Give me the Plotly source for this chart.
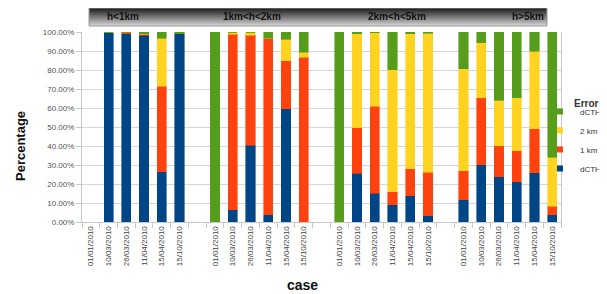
import plotly.graph_objects as go

# ---- data (percent) ----
groups = ["h<1km", "1km<h<2km", "2km<h<5km", "h>5km"]
dates = ["01/01/2010", "10/03/2010", "26/03/2010", "11/04/2010", "15/04/2010", "15/10/2010"]

series_names = ["dCTH < 1 km", "1 km < dCTH < 2 km", "2 km < dCTH < 5 km", "dCTH > 5 km"]
series_colors = ["#004586", "#ff420e", "#ffd320", "#579d1c"]

below_1km = [
    [0, 99.7, 99.0, 98.3, 26.5, 99.2],
    [0, 6.5, 40.4, 3.7, 59.6, 0],
    [0, 25.6, 15.2, 9.0, 13.9, 3.2],
    [11.6, 30.2, 23.8, 21.3, 25.9, 3.7],
]
between_1_2km = [
    [0, 0, 1.0, 0.6, 44.9, 0],
    [0, 92.3, 58.0, 92.9, 25.2, 86.6],
    [0, 24.1, 45.6, 7.0, 14.1, 22.9],
    [15.4, 35.2, 16.4, 16.1, 23.3, 4.6],
]
between_2_5km = [
    [0, 0.3, 0, 0.1, 25.2, 0],
    [0, 1.2, 1.6, 0, 11.3, 2.8],
    [0, 49.3, 38.7, 64.2, 71.0, 73.3],
    [53.6, 29.0, 24.0, 27.9, 40.6, 25.7],
]
above_5km = [
    [0, 0, 0, 1.0, 3.4, 0.8],
    [100, 0, 0, 3.4, 3.9, 10.6],
    [100, 1.0, 0.5, 19.8, 1.0, 0.6],
    [19.4, 5.6, 35.8, 34.7, 10.2, 66.0],
]
series_values = [below_1km, between_1_2km, between_2_5km, above_5km]

# ---- layout constants (figure pixels; page body adds an 8px offset) ----
OFF = 8
W, H = 607 - OFF, 294 - OFF
ML, MT = 82 - OFF, 32 - OFF
PR, PB = 561 - OFF, 222 - OFF
MR, MB = W - PR, H - PB
PW, PH = PR - ML, PB - MT

def px_x(p):  # p given in window pixels
    return (p - OFF - ML) / PW

def px_y(p):
    return (PB - (p - OFF)) / PH

slot = len(dates) + 1  # one empty slot between groups
xs = [g * slot + i for g in range(len(groups)) for i in range(len(dates))]
tick_text = [d for g in range(len(groups)) for d in dates]
n_slots = slot * len(groups) - 1

fig = go.Figure()
for name, color, vals in zip(series_names, series_colors, series_values):
    flat = [v for grp in vals for v in grp]
    fig.add_trace(go.Bar(
        x=xs, y=flat, name=name, showlegend=False,
        marker=dict(color=color, line=dict(width=0.6, color=color)),
    ))
# legend entries with small square keys
for name, color in reversed(list(zip(series_names, series_colors))):
    fig.add_trace(go.Scatter(
        x=[None], y=[None], mode="markers", name=name,
        marker=dict(symbol="square", size=6, color=color),
    ))

FONT = "Liberation Sans"

fig.update_layout(
    width=W, height=H,
    margin=dict(l=ML, r=MR, t=MT, b=MB, autoexpand=False),
    barmode="stack", bargap=0.48,
    paper_bgcolor="white", plot_bgcolor="white",
    font=dict(family=FONT, size=9, color="#444"),
    showlegend=True,
    legend=dict(
        x=px_x(540), y=px_y(97), xanchor="left", yanchor="top",
        traceorder="normal",
        font=dict(family=FONT, size=8, color="#333"),
        itemwidth=30, tracegroupgap=0,
        bgcolor="rgba(0,0,0,0)",
    ),
    xaxis=dict(
        range=[-0.5, n_slots - 0.5],
        tickvals=xs, ticktext=tick_text,
        tickangle=-90, ticks="",
        tickfont=dict(family=FONT, size=8, color="#444"),
        showgrid=False, zeroline=False,
        showline=True, linecolor="#c8c8c8", linewidth=1,
        minor=dict(tick0=0.5, dtick=1, ticks="outside", ticklen=5,
                   tickcolor="#c8c8c8", showgrid=False),
    ),
    yaxis=dict(
        range=[0, 100], dtick=10,
        tickformat=".2f", ticksuffix="%",
        tickfont=dict(family=FONT, size=8, color="#555"),
        ticks="outside", ticklen=5, tickcolor="#c8c8c8",
        showgrid=True, gridcolor="#d6d6d6", gridwidth=1,
        zeroline=False,
        showline=True, linecolor="#c8c8c8", linewidth=1, mirror=True,
    ),
)

# header band with vertical gradient
band_top, band_bot = 8, 26
x0, x1 = px_x(89), px_x(547)
n_strips = 18
c_top, c_bot = (30, 30, 30), (210, 210, 210)
for k in range(n_strips):
    t = k / (n_strips - 1)
    c = tuple(int(c_top[j] + (c_bot[j] - c_top[j]) * t) for j in range(3))
    ya = band_top + (band_bot - band_top) * k / n_strips
    yb = band_top + (band_bot - band_top) * (k + 1) / n_strips
    fig.add_shape(type="rect", xref="paper", yref="paper",
                  x0=x0, x1=x1, y0=px_y(yb), y1=px_y(ya),
                  fillcolor="rgb(%d,%d,%d)" % c, line=dict(width=0), layer="above")
fig.add_shape(type="rect", xref="paper", yref="paper",
              x0=x0, x1=x1, y0=px_y(band_bot), y1=px_y(band_top),
              fillcolor="rgba(0,0,0,0)", line=dict(width=1, color="#9a9a9a"), layer="above")

label_px = [123, 252, 397, 528]
for g, lx in zip(groups, label_px):
    fig.add_annotation(text="<b>%s</b>" % g, xref="paper", yref="paper",
                       x=px_x(lx), y=px_y(17), xanchor="center", yanchor="middle",
                       showarrow=False, font=dict(family=FONT, size=10, color="#111"))

fig.add_annotation(text="<b>Error</b>", xref="paper", yref="paper",
                   x=px_x(572), y=px_y(104), xanchor="left", yanchor="middle",
                   showarrow=False, font=dict(family=FONT, size=10, color="#333"))
fig.add_annotation(text="<b>Percentage</b>", xref="paper", yref="paper",
                   x=px_x(20), y=px_y(146), textangle=-90, showarrow=False,
                   xanchor="center", yanchor="middle",
                   font=dict(family=FONT, size=13, color="#111"))
fig.add_annotation(text="<b>case</b>", xref="paper", yref="paper",
                   x=px_x(302), y=px_y(285), showarrow=False,
                   xanchor="center", yanchor="middle",
                   font=dict(family=FONT, size=14, color="#111"))

fig.write_html("out.html")
